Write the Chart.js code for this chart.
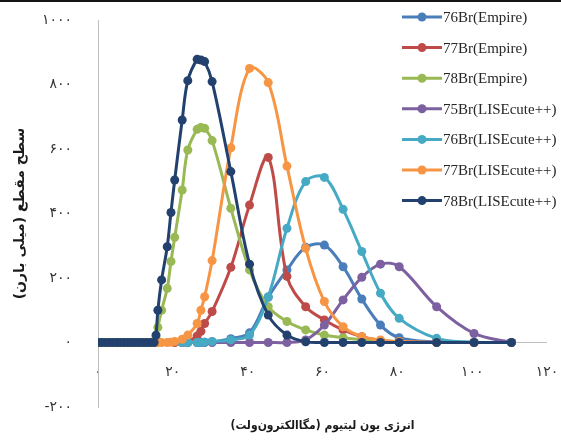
<!DOCTYPE html>
<html>
<head>
<meta charset="utf-8">
<script src="https://cdn.jsdelivr.net/npm/chart.js@4.4.1/dist/chart.umd.min.js"></script>
<style>
  body { margin: 0; background: #fff; }
  #wrap { position: relative; width: 561px; height: 444px; }
  #topbar { position: absolute; left: 0; top: 0; width: 561px; height: 2px; background: #151515; }
</style>
</head>
<body>
<div id="wrap">
  <canvas id="crossChart" width="561" height="444"></canvas>
  <div id="topbar"></div>
</div>
<script>
// lithium ion energy (MeV) grid shared by all series
const energy = [0, 1, 2, 3, 4, 5, 6, 7, 8, 9, 10, 11, 12, 13, 14, 15,
  15.5, 16, 17, 18.5, 19.5, 20.5, 22.5, 24, 26.5, 27.5, 28.5, 30.5, 35.5, 40.5,
  45.5, 50.5, 55.5, 60.5, 65.5, 70.5, 75.5, 80.5, 90.5, 100.5, 110.5];

const base16 = [0, 0, 0, 0, 0, 0, 0, 0, 0, 0, 0, 0, 0, 0, 0, 0];
const none16 = [null, null, null, null, null, null, null, null, null, null, null, null, null, null, null, null];

const br76Empire = none16.concat([null, null, null, null, null, null,
  0, 0, 0, 0, 1, 2, 12, 30, 140, 225, 295, 302, 235, 135, 54, 15, 2, 0, 0]);
const br77Empire = none16.concat([null, null, null, null, null,
  0, 0, 3, 20, 35, 59, 96, 233, 426, 574, 205, 111, 70, 39, 18, 6, 2, 0, 0, 0]);
const br78Empire = base16.concat([15, 47, 100, 168, 251, 326, 473, 597, 661, 667, 664, 626,
  416, 225, 111, 65, 39, 23, 15, 8, 3, 1, 0, 0, 0]);
const br75Lise = none16.concat([null, null, null, null, null, null,
  0, 0, 0, 0, 0, 0, 0, 0, 0, 0, 8, 54, 132, 202, 243, 235, 111, 28, 0]);
const br76Lise = none16.concat([null, null, null, null, null, null,
  0, 0, 0, 0, 1, 3, 8, 23, 142, 354, 499, 512, 413, 282, 153, 75, 13, 1, 0]);
const br77Lise = none16.concat([null,
  0, 0, 0, 1, 3, 10, 23, 59, 100, 142, 254, 604, 850, 806, 547, 292, 127, 49, 18, 8, 3, 0, 0, 0]);
const br78Lise = base16.concat([23, 100, 194, 297, 403, 504, 690, 812, 878, 876, 871, 809,
  530, 243, 85, 23, 2, 0, 0, 0, 0, 0, 0, 0, 0]);

const seriesNames = ['76Br(Empire)', '77Br(Empire)', '78Br(Empire)', '75Br(LISEcute++)',
  '76Br(LISEcute++)', '77Br(LISEcute++)', '78Br(LISEcute++)'];
const seriesValues = [br76Empire, br77Empire, br78Empire, br75Lise, br76Lise, br77Lise, br78Lise];
const seriesColors = ['#4a7ebb', '#be4b48', '#98b954', '#7d60a0', '#46aac5', '#f69544', '#23416e'];

const xTickLabels = ['۰', '۲۰', '۴۰', '۶۰', '۸۰', '۱۰۰', '۱۲۰'];
const yTickLabels = ['-۲۰۰', '۰', '۲۰۰', '۴۰۰', '۶۰۰', '۸۰۰', '۱۰۰۰'];

const xTitle = 'انرژی یون لیتیوم (مگاالکترون‌ولت)\u200F';
const yTitle = 'سطح مقطع (میلی بارن)\u200F';

function toPoints(values) {
  const pts = [];
  values.forEach(function(v, i) {
    if (v !== null) pts.push({ x: energy[i], y: v });
  });
  return pts;
}

// legend drawn inside the plot, top right, like the original
const insideLegend = {
  id: 'insideLegend',
  afterDraw: function(chart) {
    const ctx = chart.ctx;
    ctx.save();
    ctx.direction = 'ltr';
    ctx.font = '15px "Liberation Serif"';
    ctx.textBaseline = 'middle';
    ctx.textAlign = 'left';
    chart.data.datasets.forEach(function(ds, i) {
      const y = 17 + i * 30.6;
      ctx.strokeStyle = ds.borderColor;
      ctx.lineWidth = 3;
      ctx.beginPath();
      ctx.moveTo(402, y);
      ctx.lineTo(442, y);
      ctx.stroke();
      ctx.fillStyle = ds.borderColor;
      ctx.beginPath();
      ctx.arc(422, y, 4.5, 0, Math.PI * 2);
      ctx.fill();
      ctx.fillStyle = '#262626';
      ctx.fillText(ds.label, 443, y + 1);
    });
    ctx.restore();
  }
};

const ctx = document.getElementById('crossChart').getContext('2d');
const crossChart = new Chart(ctx, {
  type: 'scatter',
  data: {
    datasets: seriesNames.map(function(name, i) {
      return {
        label: name,
        data: toPoints(seriesValues[i]),
        showLine: true,
        borderColor: seriesColors[i],
        backgroundColor: seriesColors[i],
        borderWidth: 3,
        pointRadius: 4.5,
        pointBorderWidth: 0,
        tension: 0.35,
        order: 7 - i
      };
    })
  },
  options: {
    responsive: false,
    animation: false,
    layout: {
      padding: { top: 20, right: 14, left: 0, bottom: 0 }
    },
    scales: {
      x: {
        type: 'linear',
        min: 0,
        max: 120,
        afterFit: function(scale) {
          scale.height = 37;
          scale.paddingLeft = 0;
          scale.paddingRight = 10;
        },
        grid: { display: false },
        border: { display: false },
        ticks: {
          stepSize: 20,
          mirror: true,
          padding: 26,
          color: '#333',
          font: { family: 'DejaVu Sans', size: 14 },
          callback: function(value, index) { return xTickLabels[index]; }
        },
        title: {
          display: true,
          text: xTitle,
          color: '#1a1a1a',
          font: { family: 'DejaVu Sans Condensed', size: 12, weight: 'bold' },
          padding: { top: 0, bottom: 11 }
        }
      },
      y: {
        min: -200,
        max: 1000,
        afterFit: function(scale) { scale.width = 98; },
        grid: {
          drawTicks: true,
          tickLength: 26,
          tickColor: 'rgba(0,0,0,0)',
          color: function(c) { return c.tick && c.tick.value === 0 ? '#bfbfbf' : 'rgba(0,0,0,0)'; }
        },
        border: { display: true, color: '#bfbfbf' },
        ticks: {
          stepSize: 200,
          padding: 0,
          color: '#333',
          font: { family: 'DejaVu Sans', size: 14 },
          callback: function(value, index) { return yTickLabels[index]; }
        },
        title: {
          display: true,
          text: yTitle,
          color: '#1a1a1a',
          font: { family: 'DejaVu Sans', size: 14, weight: 'bold' },
          padding: { top: 12, bottom: 0 }
        }
      }
    },
    plugins: {
      legend: { display: false },
      tooltip: { enabled: false }
    }
  },
  plugins: [insideLegend]
});
</script>
</body>
</html>
